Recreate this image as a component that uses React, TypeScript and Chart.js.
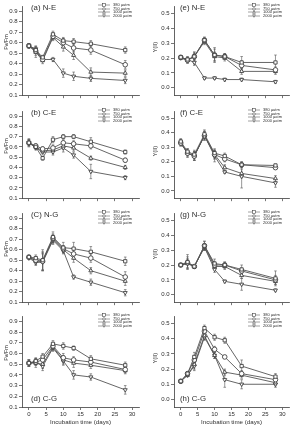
import React, { useEffect, useRef } from "react";
import { Chart, registerables } from "chart.js";

Chart.register(...registerables);

// Sampling days and shared labels
const DAYS = [0, 2, 4, 7, 10, 13, 18, 28];
const LEVELS = ["380 µatm", "750 µatm", "1000 µatm", "2000 µatm"];
const X_TICKS = [0, 5, 10, 15, 20, 25, 30];
const FVFM_TICKS = [0.1, 0.2, 0.3, 0.4, 0.5, 0.6, 0.7, 0.8, 0.9];
const YII_TICKS = [0, 0.1, 0.2, 0.3, 0.4, 0.5];

// (a) N-E, Fv/Fm
const A_380 = [0.57, 0.53, 0.46, 0.68, 0.62, 0.61, 0.59, 0.53];
const A_750 = [0.57, 0.52, 0.44, 0.66, 0.6, 0.55, 0.53, 0.39];
const A_1000 = [0.57, 0.51, 0.43, 0.65, 0.56, 0.48, 0.32, 0.31];
const A_2000 = [0.57, 0.54, 0.44, 0.44, 0.31, 0.28, 0.26, 0.24];
const A_380_SD = [0.02, 0.03, 0.02, 0.03, 0.03, 0.03, 0.03, 0.03];
const A_750_SD = [0.02, 0.04, 0.02, 0.03, 0.04, 0.04, 0.04, 0.04];
const A_1000_SD = [0.02, 0.05, 0.03, 0.03, 0.04, 0.04, 0.04, 0.03];
const A_2000_SD = [0.02, 0.03, 0.02, 0.02, 0.04, 0.04, 0.03, 0.03];

// (b) C-E, Fv/Fm
const B_380 = [0.64, 0.6, 0.49, 0.67, 0.7, 0.7, 0.65, 0.55];
const B_750 = [0.64, 0.61, 0.58, 0.59, 0.64, 0.63, 0.61, 0.47];
const B_1000 = [0.64, 0.6, 0.56, 0.57, 0.61, 0.59, 0.49, 0.4];
const B_2000 = [0.64, 0.59, 0.55, 0.55, 0.59, 0.52, 0.36, 0.3];
const B_380_SD = [0.03, 0.02, 0.02, 0.03, 0.02, 0.02, 0.04, 0.02];
const B_750_SD = [0.03, 0.02, 0.02, 0.03, 0.03, 0.03, 0.03, 0.02];
const B_1000_SD = [0.03, 0.02, 0.02, 0.03, 0.03, 0.03, 0.02, 0.02];
const B_2000_SD = [0.04, 0.02, 0.02, 0.03, 0.04, 0.03, 0.07, 0.02];

// (C) N-G, Fv/Fm
const C_380 = [0.53, 0.52, 0.5, 0.72, 0.62, 0.61, 0.58, 0.49];
const C_750 = [0.53, 0.5, 0.49, 0.71, 0.61, 0.56, 0.52, 0.34];
const C_1000 = [0.53, 0.49, 0.49, 0.7, 0.6, 0.52, 0.4, 0.3];
const C_2000 = [0.52, 0.48, 0.48, 0.69, 0.59, 0.34, 0.29, 0.19];
const C_380_SD = [0.01, 0.03, 0.1, 0.05, 0.05, 0.06, 0.05, 0.04];
const C_750_SD = [0.01, 0.03, 0.09, 0.04, 0.03, 0.05, 0.04, 0.05];
const C_1000_SD = [0.01, 0.03, 0.08, 0.04, 0.03, 0.04, 0.03, 0.04];
const C_2000_SD = [0.01, 0.03, 0.08, 0.04, 0.03, 0.02, 0.03, 0.03];

// (d) C-G, Fv/Fm
const D_380 = [0.51, 0.53, 0.57, 0.69, 0.67, 0.65, 0.55, 0.49];
const D_750 = [0.51, 0.52, 0.54, 0.67, 0.56, 0.54, 0.52, 0.45];
const D_1000 = [0.51, 0.51, 0.5, 0.66, 0.54, 0.51, 0.49, 0.44];
const D_2000 = [0.51, 0.52, 0.48, 0.65, 0.53, 0.4, 0.38, 0.26];
const D_380_SD = [0.03, 0.03, 0.03, 0.03, 0.03, 0.02, 0.03, 0.03];
const D_750_SD = [0.03, 0.03, 0.04, 0.03, 0.04, 0.03, 0.03, 0.03];
const D_1000_SD = [0.03, 0.04, 0.04, 0.03, 0.04, 0.04, 0.03, 0.03];
const D_2000_SD = [0.03, 0.03, 0.04, 0.03, 0.04, 0.04, 0.03, 0.04];

// (e) N-E, Y(II)
const E_380 = [0.205, 0.19, 0.21, 0.32, 0.22, 0.21, 0.17, 0.17];
const E_750 = [0.205, 0.185, 0.21, 0.32, 0.22, 0.21, 0.15, 0.12];
const E_1000 = [0.2, 0.185, 0.21, 0.31, 0.21, 0.2, 0.11, 0.11];
const E_2000 = [0.2, 0.19, 0.17, 0.065, 0.065, 0.055, 0.055, 0.04];
const E_380_SD = [0.01, 0.02, 0.03, 0.02, 0.05, 0.02, 0.04, 0.05];
const E_750_SD = [0.01, 0.02, 0.03, 0.02, 0.04, 0.02, 0.03, 0.02];
const E_1000_SD = [0.01, 0.02, 0.02, 0.02, 0.03, 0.02, 0.02, 0.02];
const E_2000_SD = [0.01, 0.01, 0.02, 0.01, 0.01, 0.01, 0.01, 0.01];

// (f) C-E, Y(II)
const F_380 = [0.34, 0.27, 0.25, 0.39, 0.26, 0.24, 0.18, 0.175];
const F_750 = [0.33, 0.26, 0.24, 0.38, 0.25, 0.22, 0.18, 0.16];
const F_1000 = [0.33, 0.26, 0.24, 0.38, 0.25, 0.16, 0.12, 0.085];
const F_2000 = [0.33, 0.26, 0.24, 0.38, 0.24, 0.13, 0.1, 0.055];
const F_380_SD = [0.02, 0.02, 0.03, 0.03, 0.03, 0.02, 0.02, 0.01];
const F_750_SD = [0.02, 0.02, 0.03, 0.03, 0.03, 0.02, 0.02, 0.01];
const F_1000_SD = [0.02, 0.02, 0.03, 0.03, 0.03, 0.02, 0.03, 0.02];
const F_2000_SD = [0.02, 0.03, 0.03, 0.03, 0.04, 0.01, 0.08, 0.03];

// (g) N-G, Y(II)
const G_380 = [0.2, 0.22, 0.19, 0.33, 0.21, 0.2, 0.17, 0.11];
const G_750 = [0.2, 0.215, 0.19, 0.33, 0.2, 0.2, 0.16, 0.1];
const G_1000 = [0.2, 0.21, 0.19, 0.32, 0.19, 0.19, 0.13, 0.09];
const G_2000 = [0.2, 0.21, 0.19, 0.32, 0.17, 0.09, 0.07, 0.03];
const G_380_SD = [0.01, 0.05, 0.01, 0.03, 0.03, 0.02, 0.03, 0.05];
const G_750_SD = [0.01, 0.04, 0.01, 0.03, 0.02, 0.02, 0.02, 0.03];
const G_1000_SD = [0.01, 0.03, 0.01, 0.02, 0.02, 0.02, 0.02, 0.02];
const G_2000_SD = [0.01, 0.03, 0.01, 0.02, 0.02, 0.01, 0.04, 0.01];

// (h) C-G, Y(II)
const H_380 = [0.12, 0.17, 0.28, 0.47, 0.41, 0.39, 0.22, 0.15];
const H_750 = [0.12, 0.17, 0.26, 0.45, 0.33, 0.28, 0.17, 0.13];
const H_1000 = [0.12, 0.16, 0.23, 0.42, 0.29, 0.18, 0.16, 0.11];
const H_2000 = [0.12, 0.16, 0.22, 0.41, 0.29, 0.13, 0.1, 0.1];
const H_380_SD = [0.01, 0.01, 0.03, 0.02, 0.02, 0.02, 0.04, 0.02];
const H_750_SD = [0.01, 0.01, 0.03, 0.02, 0.02, 0.01, 0.02, 0.02];
const H_1000_SD = [0.01, 0.01, 0.03, 0.02, 0.02, 0.02, 0.02, 0.02];
const H_2000_SD = [0.01, 0.01, 0.03, 0.02, 0.02, 0.05, 0.03, 0.02];

const FONT = "'Liberation Sans', Arial, sans-serif";
const TEXT = "#2e2e2e";
const AXIS = "#3c3c3c";
const LINE = "#555";

const MARKERS = [
  { style: "rect", rotation: 0 },
  { style: "circle", rotation: 0 },
  { style: "triangle", rotation: 0 },
  { style: "triangle", rotation: 180 },
];

// Layout of the grid of panels (page pixels)
const ROW_TOP = [6, 111, 213, 316];
const ROW_BOTTOM = [96, 199, 303, 407];
const COLS = [
  { canvasLeft: 0, axisWidth: 22, plotWidth: 117, legendLeft: 98, labelLeft: 31, titleX: 6, titleShift: -9 },
  { canvasLeft: 150, axisWidth: 24, plotWidth: 115, legendLeft: 248, labelLeft: 180, titleX: 155, titleShift: -4 },
];
const PAD_TOP = 6;
const PAD_RIGHT = 6;

type PanelSpec = {
  label: string;
  row: number;
  col: number;
  kind: "fvfm" | "yii";
  series: number[][];
  errors: number[][];
};

const PANELS: PanelSpec[] = [
  { label: "(a) N-E", row: 0, col: 0, kind: "fvfm", series: [A_380, A_750, A_1000, A_2000], errors: [A_380_SD, A_750_SD, A_1000_SD, A_2000_SD] },
  { label: "(b) C-E", row: 1, col: 0, kind: "fvfm", series: [B_380, B_750, B_1000, B_2000], errors: [B_380_SD, B_750_SD, B_1000_SD, B_2000_SD] },
  { label: "(C) N-G", row: 2, col: 0, kind: "fvfm", series: [C_380, C_750, C_1000, C_2000], errors: [C_380_SD, C_750_SD, C_1000_SD, C_2000_SD] },
  { label: "(d) C-G", row: 3, col: 0, kind: "fvfm", series: [D_380, D_750, D_1000, D_2000], errors: [D_380_SD, D_750_SD, D_1000_SD, D_2000_SD] },
  { label: "(e) N-E", row: 0, col: 1, kind: "yii", series: [E_380, E_750, E_1000, E_2000], errors: [E_380_SD, E_750_SD, E_1000_SD, E_2000_SD] },
  { label: "(f) C-E", row: 1, col: 1, kind: "yii", series: [F_380, F_750, F_1000, F_2000], errors: [F_380_SD, F_750_SD, F_1000_SD, F_2000_SD] },
  { label: "(g) N-G", row: 2, col: 1, kind: "yii", series: [G_380, G_750, G_1000, G_2000], errors: [G_380_SD, G_750_SD, G_1000_SD, G_2000_SD] },
  { label: "(h) C-G", row: 3, col: 1, kind: "yii", series: [H_380, H_750, H_1000, H_2000], errors: [H_380_SD, H_750_SD, H_1000_SD, H_2000_SD] },
];

// Vertical error bars with small caps, drawn beneath the markers
const errorBars = {
  id: "errorBars",
  beforeDatasetsDraw(chart: any) {
    const { ctx } = chart;
    const yScale = chart.scales.y;
    ctx.save();
    ctx.strokeStyle = "#5e5e5e";
    ctx.lineWidth = 0.65;
    chart.data.datasets.forEach((ds: any, di: number) => {
      const meta = chart.getDatasetMeta(di);
      meta.data.forEach((pt: any, i: number) => {
        const v = ds.data[i].y;
        const e = ds.errors[i];
        const x = pt.x;
        const y1 = yScale.getPixelForValue(v + e);
        const y2 = yScale.getPixelForValue(v - e);
        ctx.beginPath();
        ctx.moveTo(x, y1);
        ctx.lineTo(x, y2);
        ctx.moveTo(x - 1.3, y1);
        ctx.lineTo(x + 1.3, y1);
        ctx.moveTo(x - 1.3, y2);
        ctx.lineTo(x + 1.3, y2);
        ctx.stroke();
      });
    });
    ctx.restore();
  },
};

function Panel({ spec }: { spec: PanelSpec }) {
  const ref = useRef<HTMLCanvasElement | null>(null);
  const col = COLS[spec.col];
  const bottomRow = spec.row === 3;
  const xHeight = bottomRow ? 19 : 4;
  const top = ROW_TOP[spec.row];
  const plotH = ROW_BOTTOM[spec.row] - top;
  const width = col.axisWidth + col.plotWidth + PAD_RIGHT;
  const height = PAD_TOP + plotH + xHeight;

  useEffect(() => {
    if (!ref.current) return;
    const isF = spec.kind === "fvfm";
    const yTicks = isF ? FVFM_TICKS : YII_TICKS;
    const chart = new Chart(ref.current, {
      type: "line",
      data: {
        datasets: spec.series.map((vals, k) => ({
          label: LEVELS[k],
          data: DAYS.map((d, i) => ({ x: d, y: vals[i] })),
          errors: spec.errors[k],
          borderColor: LINE,
          borderWidth: 0.9,
          backgroundColor: "#fff",
          pointStyle: MARKERS[k].style,
          pointRotation: MARKERS[k].rotation,
          pointRadius: 2.3,
          pointBorderWidth: 0.85,
          pointBorderColor: "#3a3a3a",
          pointBackgroundColor: "#fff",
          tension: 0,
          fill: false,
        })) as any,
      },
      options: {
        responsive: false,
        animation: false,
        events: [],
        layout: { padding: { top: PAD_TOP, right: PAD_RIGHT, left: 0, bottom: 0 } },
        plugins: { legend: { display: false }, tooltip: { enabled: false } },
        scales: {
          x: {
            type: "linear",
            min: -2,
            max: 32,
            afterBuildTicks: (s: any) => {
              s.ticks = X_TICKS.map((v) => ({ value: v }));
            },
            afterFit: (s: any) => {
              s.height = xHeight;
              s.paddingLeft = 0;
              s.paddingRight = 0;
            },
            grid: { display: true, drawOnChartArea: false, drawTicks: true, tickLength: 3, color: AXIS, tickColor: AXIS, lineWidth: 0.7 },
            border: { display: true, color: AXIS, width: 0.8 },
            ticks: {
              display: bottomRow,
              autoSkip: false,
              maxRotation: 0,
              padding: 0.5,
              color: TEXT,
              font: { family: FONT, size: 6 },
              callback: (v: any) => String(v),
            },
            title: {
              display: bottomRow,
              text: "Incubation time (days)",
              color: TEXT,
              font: { family: FONT, size: 6.2 },
              padding: 0,
            },
          },
          y: {
            type: "linear",
            min: isF ? 0.1 : -0.05,
            max: isF ? 0.95 : 0.55,
            afterBuildTicks: (s: any) => {
              s.ticks = yTicks.map((v) => ({ value: v }));
            },
            afterFit: (s: any) => {
              s.width = col.axisWidth;
              s.paddingTop = 0;
              s.paddingBottom = 0;
            },
            grid: { display: true, drawOnChartArea: false, drawTicks: true, tickLength: 3, color: AXIS, tickColor: AXIS, lineWidth: 0.7 },
            border: { display: true, color: AXIS, width: 0.8 },
            ticks: {
              autoSkip: false,
              padding: 1.5,
              color: TEXT,
              font: { family: FONT, size: 6 },
              callback: (v: any) => Number(v).toFixed(1),
            },
            title: { display: false },
          },
        },
      } as any,
      plugins: [errorBars],
    });
    return () => chart.destroy();
  }, []);

  return (
    <canvas
      ref={ref}
      width={width}
      height={height}
      style={{ position: "absolute", left: col.canvasLeft, top: top - PAD_TOP, width, height }}
    />
  );
}

function Marker({ k }: { k: number }) {
  const cx = 6;
  const cy = 2;
  const r = 1.3;
  const common = { fill: "#fff", stroke: "#3a3a3a", strokeWidth: 0.55 };
  if (k === 0) return <rect x={cx - r} y={cy - r} width={2 * r} height={2 * r} {...common} />;
  if (k === 1) return <circle cx={cx} cy={cy} r={r} {...common} />;
  if (k === 2) return <polygon points={`${cx},${cy - r} ${cx + r},${cy + r} ${cx - r},${cy + r}`} {...common} />;
  return <polygon points={`${cx},${cy + r} ${cx + r},${cy - r} ${cx - r},${cy - r}`} {...common} />;
}

function LegendBox({ left, top }: { left: number; top: number }) {
  return (
    <div style={{ position: "absolute", left, top }}>
      {LEVELS.map((lab, k) => (
        <div key={lab} style={{ display: "flex", alignItems: "center", height: 3.7 }}>
          <svg width={12} height={4} style={{ display: "block" }}>
            <line x1={0} y1={2} x2={12} y2={2} stroke={LINE} strokeWidth={0.55} />
            <Marker k={k} />
          </svg>
          <span style={{ fontFamily: FONT, fontSize: 4, lineHeight: 1, color: TEXT, marginLeft: 3, whiteSpace: "nowrap" }}>
            {lab}
          </span>
        </div>
      ))}
    </div>
  );
}

export default function App() {
  return (
    <div style={{ position: "absolute", left: 0, top: 0, width: 295, height: 427, background: "#fff", overflow: "hidden" }}>
      {PANELS.map((p) => {
        const col = COLS[p.col];
        const top = ROW_TOP[p.row];
        const bottom = ROW_BOTTOM[p.row];
        const mid = (top + bottom) / 2 + col.titleShift;
        const labelY = p.row === 3 ? bottom - 8 : top + 2;
        return (
          <React.Fragment key={p.label}>
            <Panel spec={p} />
            <LegendBox left={col.legendLeft} top={top - 3} />
            <div
              style={{
                position: "absolute",
                left: col.labelLeft,
                top: labelY - 4,
                fontFamily: FONT,
                fontSize: 7.8,
                lineHeight: "8px",
                color: TEXT,
                whiteSpace: "nowrap",
              }}
            >
              {p.label}
            </div>
            <div
              style={{
                position: "absolute",
                left: col.titleX - 20,
                top: mid - 3,
                width: 40,
                height: 6,
                lineHeight: "6px",
                textAlign: "center",
                fontFamily: FONT,
                fontSize: 5.5,
                color: TEXT,
                transform: "rotate(-90deg)",
                whiteSpace: "nowrap",
              }}
            >
              {p.kind === "fvfm" ? "Fv/Fm" : "Y(II)"}
            </div>
          </React.Fragment>
        );
      })}
    </div>
  );
}
